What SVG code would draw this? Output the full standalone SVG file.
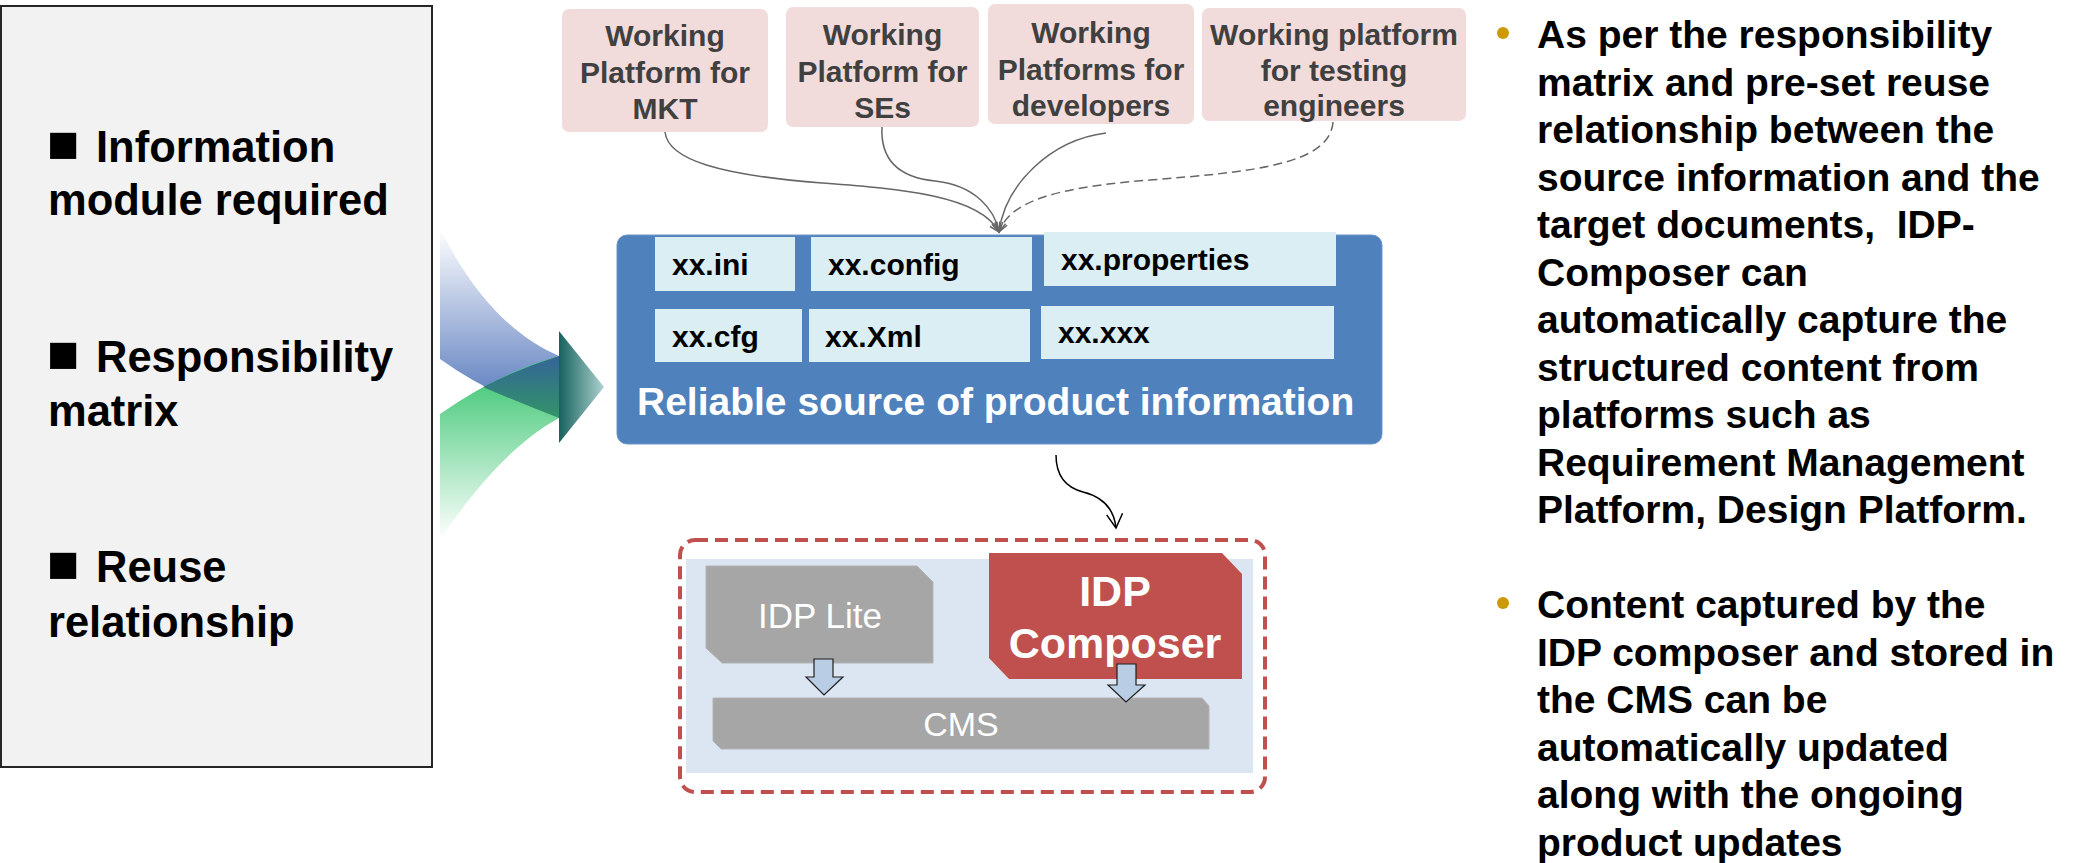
<svg xmlns="http://www.w3.org/2000/svg" width="2074" height="863" viewBox="0 0 2074 863">
<style>
text{font-family:"Liberation Sans",Arial,sans-serif;}
.lt{font-size:43.5px;font-weight:bold;fill:#000;}
.sq{font-size:54px;}
.pt{font-size:30px;font-weight:bold;fill:#404040;text-anchor:middle;}
.pbox{fill:#f2dcdb;}
.cell{fill:#dbeef4;}
.ct{font-size:30px;font-weight:bold;fill:#000;}
.rt{font-size:39px;font-weight:bold;fill:#000;}
.con{fill:none;stroke:#666;stroke-width:1.5;marker-end:url(#ag);}
.gray{fill:#a6a6a6;stroke:#b4b4b4;stroke-width:1;}
.wt{fill:#fff;text-anchor:middle;}
.barr{fill:#b9cde5;stroke:#1f1f1f;stroke-width:1.2;}
</style>
<defs>
<marker id="ag" markerUnits="userSpaceOnUse" markerWidth="24" markerHeight="24" refX="10" refY="10" orient="auto" overflow="visible">
<path d="M1,4.5 L10,10 L1,15.5" fill="none" stroke="#666" stroke-width="1.5"/>
</marker>
<marker id="ab" markerUnits="userSpaceOnUse" markerWidth="30" markerHeight="30" refX="14" refY="10" orient="auto" overflow="visible">
<path d="M0,2 L14,10 L0,18" fill="none" stroke="#000" stroke-width="1.5"/>
</marker>
<linearGradient id="gBlue" gradientUnits="userSpaceOnUse" x1="0" y1="228" x2="0" y2="410">
<stop offset="0" stop-color="#ffffff"/>
<stop offset="1" stop-color="#5577bb"/>
</linearGradient>
<linearGradient id="gGreen" gradientUnits="userSpaceOnUse" x1="0" y1="385" x2="0" y2="540">
<stop offset="0" stop-color="#4fcb80"/>
<stop offset="1" stop-color="#ffffff"/>
</linearGradient>
<linearGradient id="gLens" gradientUnits="userSpaceOnUse" x1="0" y1="360" x2="0" y2="418">
<stop offset="0" stop-color="#336894"/>
<stop offset="1" stop-color="#339468"/>
</linearGradient>
<linearGradient id="gTri" gradientUnits="userSpaceOnUse" x1="559" y1="0" x2="604" y2="0">
<stop offset="0" stop-color="#17625f"/>
<stop offset="1" stop-color="#add2ce"/>
</linearGradient>
</defs>

<g id="left-panel">
<rect x="1" y="6" width="431" height="761" fill="#f2f2f2" stroke="#262626" stroke-width="2"/>
<text class="lt" x="47" y="162"><tspan class="sq">■</tspan> <tspan x="96">Information</tspan></text>
<text class="lt" x="48" y="215">module required</text>
<text class="lt" x="47" y="372"><tspan class="sq">■</tspan> <tspan x="96">Responsibility</tspan></text>
<text class="lt" x="48" y="426">matrix</text>
<text class="lt" x="47" y="582"><tspan class="sq">■</tspan> <tspan x="96">Reuse</tspan></text>
<text class="lt" x="48" y="637">relationship</text>
</g>

<g id="merge-arrow">
<path d="M440,228 C470,290 510,335 559,356 L559,418 Q490,395 440,359 Z" fill="url(#gBlue)"/>
<path d="M440,414 Q500,372 559,356 L559,418 C510,445 470,495 440,540 Z" fill="url(#gGreen)"/>
<path d="M483,387 Q520,368 559,356 L559,418 Q520,403 483,387 Z" fill="url(#gLens)"/>
<polygon points="559,331 604,387 559,443" fill="url(#gTri)"/>
</g>

<g id="platform-mkt">
<rect class="pbox" x="562" y="9" width="206" height="123" rx="7"/>
<text class="pt" x="665" y="46">Working</text>
<text class="pt" x="665" y="83">Platform for</text>
<text class="pt" x="665" y="119">MKT</text>
</g>
<g id="platform-ses">
<rect class="pbox" x="786" y="7" width="193" height="120" rx="7"/>
<text class="pt" x="882.5" y="45">Working</text>
<text class="pt" x="882.5" y="82">Platform for</text>
<text class="pt" x="882.5" y="118">SEs</text>
</g>
<g id="platform-dev">
<rect class="pbox" x="988" y="4" width="206" height="120" rx="7"/>
<text class="pt" x="1091" y="43">Working</text>
<text class="pt" x="1091" y="80">Platforms for</text>
<text class="pt" x="1091" y="116">developers</text>
</g>
<g id="platform-test">
<rect class="pbox" x="1202" y="8" width="264" height="113" rx="7"/>
<text class="pt" x="1334" y="45">Working platform</text>
<text class="pt" x="1334" y="81">for testing</text>
<text class="pt" x="1334" y="116">engineers</text>
</g>

<g id="source-box">
<rect x="617" y="235" width="765" height="209" rx="10" fill="#4f81bd" stroke="#6f95c8" stroke-width="1"/>
<rect class="cell" x="655" y="237" width="140" height="54"/>
<text class="ct" x="672" y="275">xx.ini</text>
<rect class="cell" x="811" y="237" width="221" height="54"/>
<text class="ct" x="828" y="275">xx.config</text>
<rect class="cell" x="1044" y="232" width="292" height="54"/>
<text class="ct" x="1061" y="270">xx.properties</text>
<rect class="cell" x="655" y="309" width="147" height="53"/>
<text class="ct" x="672" y="347">xx.cfg</text>
<rect class="cell" x="809" y="309" width="221" height="53"/>
<text class="ct" x="825" y="347">xx.Xml</text>
<rect class="cell" x="1041" y="306" width="293" height="53"/>
<text class="ct" x="1058" y="343">xx.xxx</text>
<text x="637" y="415" font-size="39" font-weight="bold" fill="#fff">Reliable source of product information</text>
</g>

<g id="idp-system">
<rect x="680" y="540" width="585" height="252" rx="15" fill="#fff" stroke="#c0504d" stroke-width="4" stroke-dasharray="13 7"/>
<rect x="686" y="559" width="567" height="214" fill="#dce6f2"/>
</g>
<g id="idp-lite">
<path class="gray" d="M706,566 L917,566 L933,582 L933,663 L722,663 L706,648 Z"/>
<text class="wt" x="820" y="628" font-size="35">IDP Lite</text>
</g>
<g id="idp-composer">
<path d="M989,553 L1222,553 L1242,574 L1242,679 L1009,679 L989,658 Z" fill="#c0504d"/>
<text class="wt" x="1115" y="606" font-size="43" font-weight="bold">IDP</text>
<text class="wt" x="1115" y="658" font-size="43" font-weight="bold">Composer</text>
</g>
<g id="cms">
<path class="gray" d="M713,698 L1202,698 L1209,706 L1209,749 L721,749 L713,741 Z"/>
<text class="wt" x="961" y="736" font-size="34">CMS</text>
</g>

<g id="connectors">
<path class="con" d="M665,132 C668,160 720,175 822,183 C900,189 980,195 999,232"/>
<path class="con" d="M882,127 C880,165 905,178 935,181 C975,185 995,210 999,232"/>
<path class="con" d="M1106,133 C1050,140 1005,185 999,232"/>
<path class="con" stroke="#444" stroke-dasharray="9 5" d="M1333,122 C1330,165 1250,172 1150,180 C1060,187 1010,200 999,232"/>
<path d="M1056,455 C1056,478 1068,488 1083,492 C1103,497 1114,508 1116,528" fill="none" stroke="#000" stroke-width="1.5" marker-end="url(#ab)"/>
<path class="barr" d="M814,659 L833,659 L833,677 L843,677 L824,695 L806,677 L814,677 Z"/>
<path class="barr" d="M1117,664 L1136,664 L1136,685 L1145,685 L1126,702 L1108,685 L1117,685 Z"/>
</g>

<g id="notes">
<circle cx="1503" cy="33" r="6" fill="#cc9a06"/>
<text class="rt" x="1537" y="48">As per the responsibility</text>
<text class="rt" x="1537" y="95.5">matrix and pre-set reuse</text>
<text class="rt" x="1537" y="143">relationship between the</text>
<text class="rt" x="1537" y="190.5">source information and the</text>
<text class="rt" x="1537" y="238" xml:space="preserve">target documents,  IDP-</text>
<text class="rt" x="1537" y="285.5">Composer can</text>
<text class="rt" x="1537" y="333">automatically capture the</text>
<text class="rt" x="1537" y="380.5">structured content from</text>
<text class="rt" x="1537" y="428">platforms such as</text>
<text class="rt" x="1537" y="475.5">Requirement Management</text>
<text class="rt" x="1537" y="523">Platform, Design Platform.</text>
<circle cx="1503" cy="603" r="6" fill="#cc9a06"/>
<text class="rt" x="1537" y="618">Content captured by the</text>
<text class="rt" x="1537" y="665.5">IDP composer and stored in</text>
<text class="rt" x="1537" y="713">the CMS can be</text>
<text class="rt" x="1537" y="760.5">automatically updated</text>
<text class="rt" x="1537" y="808">along with the ongoing</text>
<text class="rt" x="1537" y="855.5">product updates</text>
</g>
</svg>
